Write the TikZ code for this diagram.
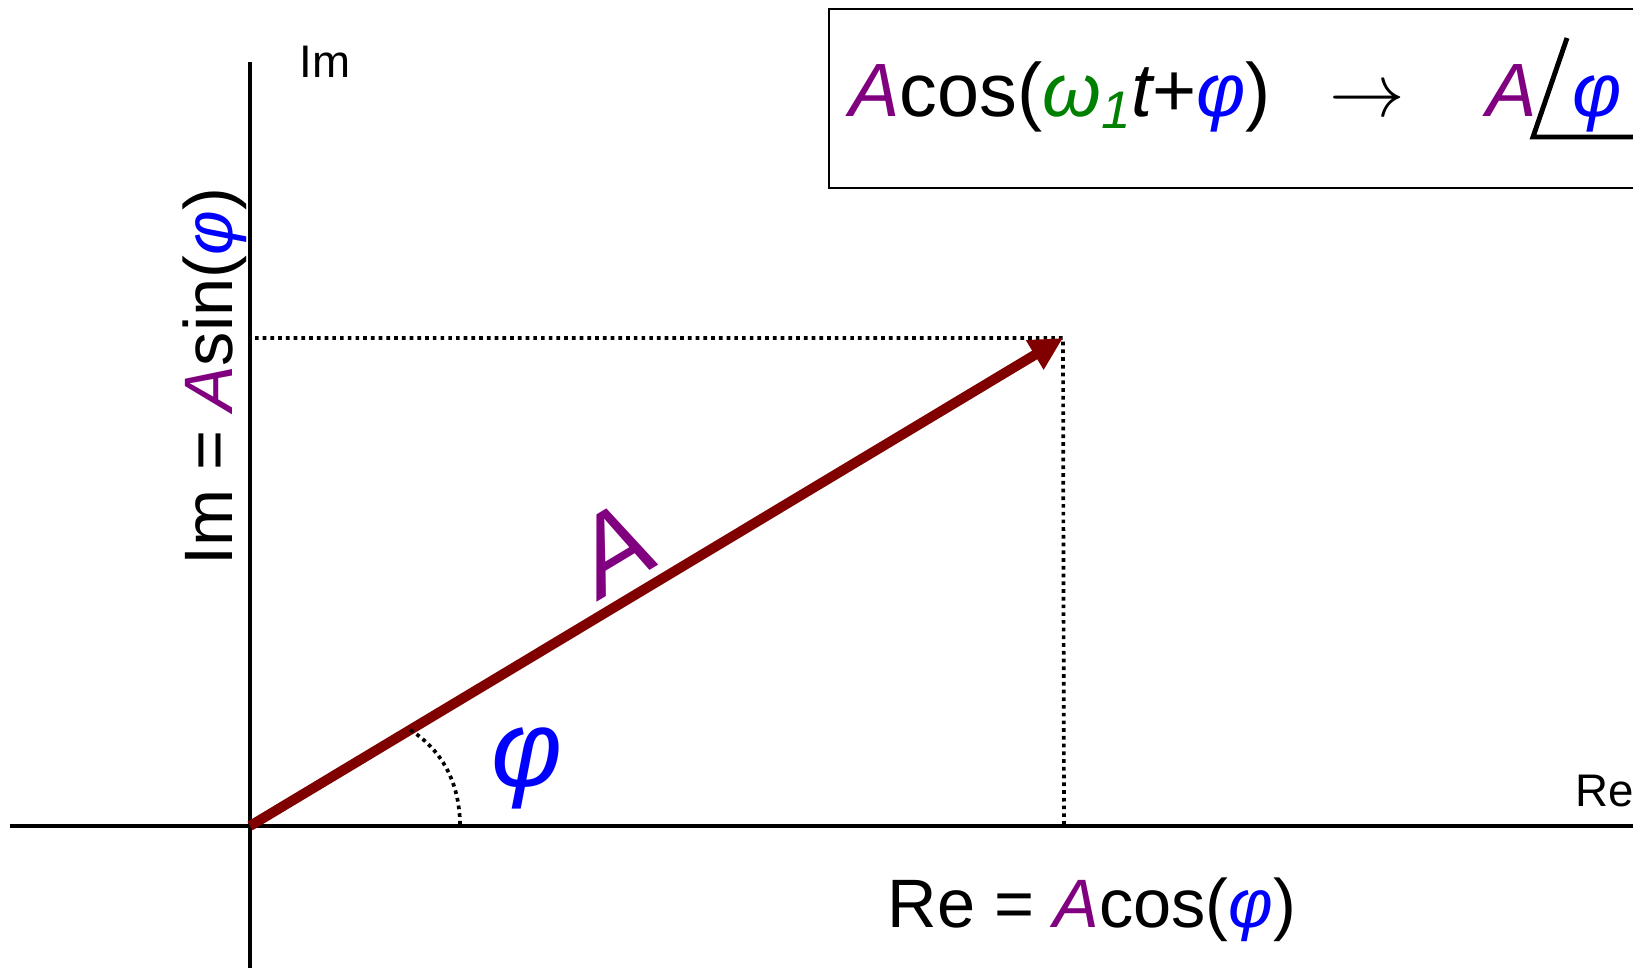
\RequirePackage{fix-cm}
\documentclass[tikz,border=0pt]{standalone}
\usepackage{fontspec}
\setmainfont{Liberation Sans}
\usetikzlibrary{arrows.meta,positioning}
\definecolor{PhasorRed}{RGB}{128,0,0}
\definecolor{AmpPurple}{RGB}{128,0,128}
\definecolor{PhaseBlue}{RGB}{0,0,255}
\definecolor{FreqGreen}{RGB}{0,128,0}
\newcommand{\amp}{{\color{AmpPurple}\itshape A}}
\newcommand{\phs}{{\color{PhaseBlue}\itshape φ}}
\tikzset{
  axis/.style={line width=2.2pt},
  guide/.style={line width=2.1pt,dash pattern=on 2.1pt off 2.3pt},
  phasor/.style={-{Triangle[length=0.66cm,width=0.64cm]},line width=0.2cm,
    PhasorRed},
  frame/.style={line width=1.3pt},
  anglemark/.style={line width=2.8pt},
  boxtext/.style={font=\fontsize{43}{50}\selectfont,inner sep=0pt},
  bigtext/.style={font=\fontsize{39}{46}\selectfont,inner sep=0pt},
  axislabel/.style={font=\fontsize{26}{30}\selectfont,inner sep=0pt},
  symbol/.style={font=\fontsize{62}{70}\selectfont\itshape,inner sep=0pt}
}

\begin{document}
\begin{tikzpicture}[x=0.02cm,y=0.02cm]
  \clip (0,0) rectangle (1633,967);
  \coordinate (O) at (250,141);
  \coordinate (T) at (1063,629);
  \coordinate (imT) at (255,629);
  \coordinate (reT) at (1064,141);
  \coordinate (xL) at (10,141);
  \coordinate (xR) at (1640,141);
  \coordinate (yB) at (250,-5);
  \coordinate (yT) at (250,905);
  \coordinate (arcEnd) at (460,141);

  \draw[axis] (xL) -- (xR);
  \draw[axis] (yB) -- (yT);
  \draw[guide] (imT) -- (T) -- (reT);
  \draw[phasor] (O) -- (T) coordinate[pos=0.197] (arcStart);
  \draw[guide] (arcStart) .. controls (445,215) and (460,180) .. (arcEnd);

  \node[axislabel,anchor=base west] (imLabel) at (299,889) {Im};
  \node[axislabel,anchor=base west] (reLabel) at (1575,160) {Re};
  \node[bigtext,anchor=base] (reEq) at (1092,39) {Re = \amp cos(\phs)};
  \node[bigtext,anchor=base,rotate=90] (imEq) at (232,590) {Im = \amp sin(\phs)};
  \node[symbol,rotate=31,text=AmpPurple] (ampl) at (613,418) {A};
  \node[symbol,text=PhaseBlue] (angle) at (527,199) {φ};

  \draw[frame] (829,779) rectangle (1650,958);
  \node[boxtext,anchor=base west] (lhs) at (849,850)
    {\amp cos({\color{FreqGreen}\itshape ω\textsubscript{1}}{\itshape t}+\phs)};
  \node[boxtext,base right=1.16cm of lhs] (maps) {$\rightarrow$};
  \node[boxtext,base right=1.6cm of maps] (polA) {\amp};
  \node[boxtext,base right=0.7cm of polA] (polPhi) {\phs};
  \coordinate (angTop) at (1567,929);
  \coordinate (angCorner) at (1533,830);
  \coordinate (angEnd) at (1645,830);
  \draw[anglemark] (angTop) -- (angCorner) -- (angEnd);
\end{tikzpicture}
\end{document}
